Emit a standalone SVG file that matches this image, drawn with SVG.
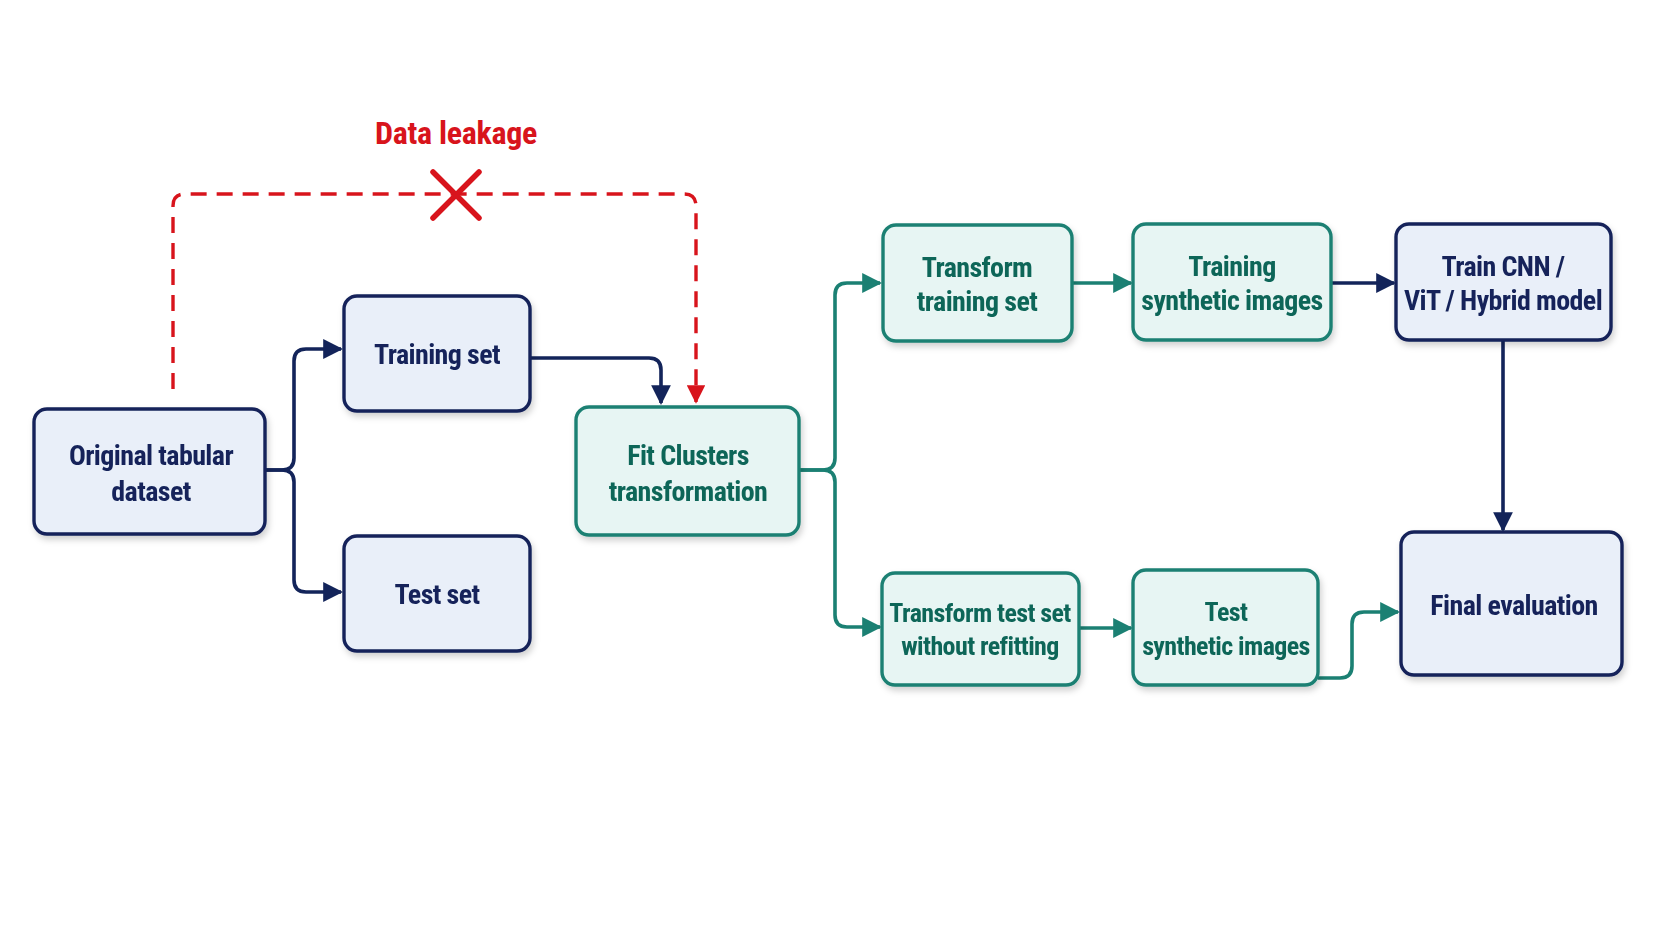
<svg xmlns="http://www.w3.org/2000/svg" width="1672" height="941" viewBox="0 0 1672 941">
<style>
.nb{fill:#e9eff9;stroke:#13245a;stroke-width:3.4}
.tb{fill:#e7f5f3;stroke:#1b8073;stroke-width:3.4}
.t{font-family:"Liberation Sans Narrow","Roboto Condensed","DejaVu Sans Condensed",sans-serif;font-weight:bold;font-size:28px;text-anchor:middle;letter-spacing:-0.6px}
.tn{fill:#13245a}
.tt{fill:#0f6659}
.cn{fill:none;stroke:#13245a;stroke-width:3.6;stroke-linejoin:round}
.ct{fill:none;stroke:#1b8073;stroke-width:3.6;stroke-linejoin:round}
.cr{fill:none;stroke:#d8141c;stroke-width:3.4;stroke-dasharray:16 10}
</style>
<defs>
<filter id="sh" x="-10%" y="-10%" width="130%" height="140%">
<feDropShadow dx="2" dy="4" stdDeviation="3" flood-color="#000" flood-opacity="0.18"/>
</filter>
<marker id="an" viewBox="0 0 10 10" refX="9" refY="5" markerWidth="5.5" markerHeight="5.5" markerUnits="strokeWidth" orient="auto"><path d="M0,0L10,5L0,10z" fill="#13245a"/></marker>
<marker id="at" viewBox="0 0 10 10" refX="9" refY="5" markerWidth="5.5" markerHeight="5.5" markerUnits="strokeWidth" orient="auto"><path d="M0,0L10,5L0,10z" fill="#1b8073"/></marker>
<marker id="ar" viewBox="0 0 10 10" refX="9" refY="5" markerWidth="5.5" markerHeight="5.5" markerUnits="strokeWidth" orient="auto"><path d="M0,0L10,5L0,10z" fill="#d8141c"/></marker>
</defs>
<rect width="1672" height="941" fill="#ffffff"/>

<g id="connectors">
<path class="cr" d="M173,389 V206 Q173,194 185,194 H684 Q696,194 696,206 V402" marker-end="url(#ar)"/>
<path class="cn" d="M265,470 H282 Q294,470 294,458 V361 Q294,349 306,349 H341" marker-end="url(#an)"/>
<path class="cn" d="M265,470 H282 Q294,470 294,482 V580 Q294,592 306,592 H341" marker-end="url(#an)"/>
<path class="cn" d="M530,358 H649 Q661,358 661,370 V403" marker-end="url(#an)"/>
<path class="ct" d="M799,470 H823 Q835,470 835,458 V295 Q835,283 847,283 H880" marker-end="url(#at)"/>
<path class="ct" d="M799,470 H823 Q835,470 835,482 V615 Q835,627 847,627 H880" marker-end="url(#at)"/>
<path class="ct" d="M1072,283 H1131" marker-end="url(#at)"/>
<path class="cn" d="M1331,283 H1394" marker-end="url(#an)"/>
<path class="cn" d="M1503,340 V530" marker-end="url(#an)"/>
<path class="ct" d="M1079,628 H1131" marker-end="url(#at)"/>
<path class="ct" d="M1318,678 H1340 Q1352,678 1352,666 V624 Q1352,612 1364,612 H1398" marker-end="url(#at)"/>
</g>

<g id="leak">
<text x="456" y="144" class="t" fill="#d8141c" style="font-size:32px;letter-spacing:-0.3px">Data leakage</text>
<path d="M433,172 L479,218 M479,172 L433,218" stroke="#d8141c" stroke-width="5.5" stroke-linecap="round"/>
</g>

<g id="n-original" filter="url(#sh)">
<rect class="nb" x="34" y="409" width="231" height="125" rx="13"/>
<text class="t tn" x="151" y="465">Original tabular</text>
<text class="t tn" x="151" y="501">dataset</text>
</g>
<g id="n-train" filter="url(#sh)">
<rect class="nb" x="344" y="296" width="186" height="115" rx="13"/>
<text class="t tn" x="437" y="364">Training set</text>
</g>
<g id="n-test" filter="url(#sh)">
<rect class="nb" x="344" y="536" width="186" height="115" rx="13"/>
<text class="t tn" x="437" y="604">Test set</text>
</g>
<g id="n-fit" filter="url(#sh)">
<rect class="tb" x="576" y="407" width="223" height="128" rx="13"/>
<text class="t tt" x="688" y="465">Fit Clusters</text>
<text class="t tt" x="688" y="501">transformation</text>
</g>
<g id="n-ttrain" filter="url(#sh)">
<rect class="tb" x="883" y="225" width="189" height="116" rx="13"/>
<text class="t tt" x="977" y="277">Transform</text>
<text class="t tt" x="977" y="311">training set</text>
</g>
<g id="n-tsi" filter="url(#sh)">
<rect class="tb" x="1133" y="224" width="198" height="116" rx="13"/>
<text class="t tt" x="1232" y="276">Training</text>
<text class="t tt" x="1232" y="310">synthetic images</text>
</g>
<g id="n-model" filter="url(#sh)">
<rect class="nb" x="1396" y="224" width="215" height="116" rx="13"/>
<text class="t tn" x="1503" y="276">Train CNN /</text>
<text class="t tn" x="1503" y="310">ViT / Hybrid model</text>
</g>
<g id="n-ttest" filter="url(#sh)">
<rect class="tb" x="882" y="573" width="197" height="112" rx="13"/>
<text class="t tt" x="980" y="622" style="font-size:26px">Transform test set</text>
<text class="t tt" x="980" y="655" style="font-size:26px">without refitting</text>
</g>
<g id="n-tesi" filter="url(#sh)">
<rect class="tb" x="1133" y="570" width="185" height="115" rx="13"/>
<text class="t tt" x="1226" y="621" style="font-size:26px">Test</text>
<text class="t tt" x="1226" y="655" style="font-size:26px">synthetic images</text>
</g>
<g id="n-final" filter="url(#sh)">
<rect class="nb" x="1401" y="532" width="221" height="143" rx="13"/>
<text class="t tn" x="1514" y="615">Final evaluation</text>
</g>
</svg>
